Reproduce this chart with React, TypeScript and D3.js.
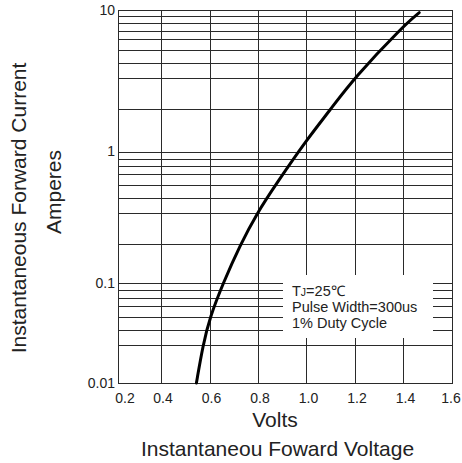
import React from 'react';
import * as d3 from 'd3';

// forward characteristic (mostly at grid crossings)
const voltage = [0.546, 0.573, 0.602, 0.656, 0.726, 0.797, 0.874, 1.0, 1.097, 1.196, 1.399, 1.465];
const current = [0.01, 0.024, 0.046, 0.1, 0.195, 0.343, 0.564, 1.206, 1.96, 3.3, 7.7, 9.57];

const xTicks = [0.2, 0.4, 0.6, 0.8, 1.0, 1.2, 1.4, 1.6];
const xGrid = [0.4, 0.6, 0.8, 1.0, 1.2, 1.4];
const yTicks = [0.01, 0.1, 1, 10];
const yTickLabels = ['0.01', '0.1', '1', '10'];
// the printed grid is not a clean log grid, so minor lines are kept as read
const yMinor = [9.1, 8.1, 7.1, 6.2, 5.2, 4.2, 3.3, 2, 0.88, 0.78, 0.68, 0.56, 0.44, 0.34, 0.2, 0.086, 0.071, 0.059, 0.046, 0.034, 0.024];

const notes = ['=25\u2103', 'Pulse Width=300us', '1% Duty Cycle'];

const W = 462;
const H = 463;
const plot = { left: 118, right: 452, top: 10, bottom: 383 };
const font = 'Arial, "Liberation Sans", Helvetica, sans-serif';
const ink = '#222';

export default function App() {
  const x = d3.scaleLinear().domain([0.4, 1.6]).range([161, plot.right]);
  // piecewise log: decades in the original are drawn with unequal heights
  const y = d3.scaleLog().domain([0.01, 0.1, 1, 10]).range([plot.bottom, 283.3, 151.5, plot.top]);

  const pts: [number, number][] = voltage.map((v, i) => [x(v), y(current[i])]);
  const line = d3.line().curve(d3.curveBasis)(pts) || '';

  const box = { x0: 283, x1: 433, y0: 275, y1: 338 };
  const tickX = (v: number) => Math.min(W - 11, Math.max(plot.left + 7, x(v) + 2));

  return (
    <svg width={W} height={H} style={{ position: 'absolute', left: 0, top: 0, background: '#fff' }} fontFamily={font}>
      <rect width={W} height={H} fill="#fff" />
      <g stroke="#2a2a2a" strokeWidth={1.2} shapeRendering="crispEdges">
        {yMinor.concat(yTicks.slice(1, 3)).map((v, i) => (
          <line key={'h' + i} x1={plot.left} x2={plot.right} y1={Math.round(y(v)) + 0.5} y2={Math.round(y(v)) + 0.5} />
        ))}
        {xGrid.map((v, i) => (
          <line key={'v' + i} x1={Math.round(x(v)) + 0.5} x2={Math.round(x(v)) + 0.5} y1={plot.top} y2={plot.bottom} />
        ))}
      </g>
      <rect x={box.x0} y={box.y0} width={box.x1 - box.x0} height={box.y1 - box.y0} fill="#fff" />
      <rect x={plot.left + 0.5} y={plot.top + 0.5} width={plot.right - plot.left} height={plot.bottom - plot.top}
        fill="none" stroke="#2a2a2a" strokeWidth={1.2} shapeRendering="crispEdges" />
      <path d={line} fill="none" stroke="#000" strokeWidth={3} strokeLinecap="round" />

      <g fill={ink} fontSize={14.5}>
        <text x={box.x0 + 9} y={y(0.1) + 13}>
          T<tspan fontSize={10.5}>J</tspan>{notes[0]}
        </text>
        <text x={box.x0 + 9} y={y(0.1) + 29}>{notes[1]}</text>
        <text x={box.x0 + 9} y={y(0.1) + 44.5}>{notes[2]}</text>
      </g>

      <g fill={ink} fontSize={14}>
        {yTicks.map((v, i) => (
          <text key={v} x={plot.left - 3} y={y(v)} dy="0.35em" textAnchor="end">{yTickLabels[i]}</text>
        ))}
        {xTicks.map(v => (
          <text key={v} x={tickX(v)} y={plot.bottom + 20} textAnchor="middle">{d3.format('.1f')(v)}</text>
        ))}
      </g>

      <g fill={ink} fontSize={21} textAnchor="middle">
        <text x={275} y={427}>Volts</text>
        <text x={277.5} y={456}>Instantaneou Foward Voltage</text>
        <text transform={`translate(26, 208) rotate(-90)`}>Instantaneous Forward Current</text>
        <text transform={`translate(61, 192) rotate(-90)`}>Amperes</text>
      </g>
    </svg>
  );
}
